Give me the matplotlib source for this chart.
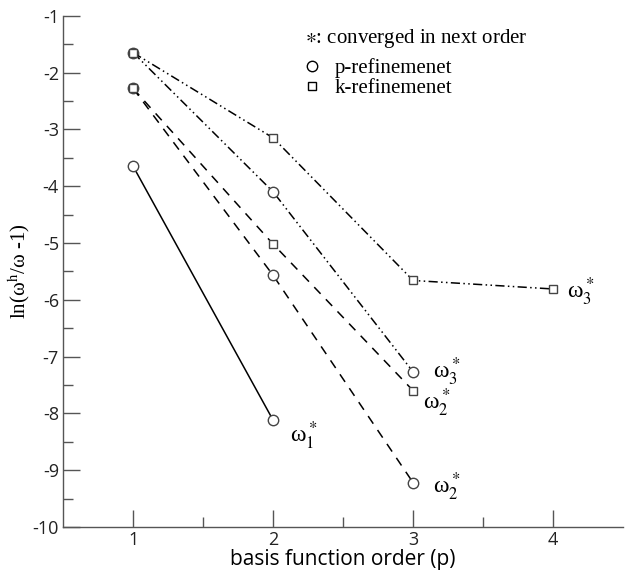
import matplotlib
matplotlib.use('Agg')
import matplotlib.pyplot as plt
from matplotlib.lines import Line2D

plt.rcParams['mathtext.fontset'] = 'stix'
plt.rcParams['axes.unicode_minus'] = False

# basis function order
p1 = [1, 2]
p2 = [1, 2, 3]
p3 = [1, 2, 3]
k2 = [1, 2, 3]
k3 = [1, 2, 3, 4]

# ln(w^h/w - 1)
w1_p = [-3.65, -8.12]
w2_p = [-2.28, -5.57, -9.22]
w2_k = [-2.28, -5.02, -7.60]
w3_p = [-1.65, -4.10, -7.27]
w3_k = [-1.65, -3.15, -5.66, -5.81]

xticks = [1, 2, 3, 4]
yticks = [-1, -2, -3, -4, -5, -6, -7, -8, -9, -10]

sans = 'Open Sans'
serif = 'Liberation Serif'
edge = '#444444'
dashed = (0, (6, 5))
dashdotdot = (0, (6, 2.2, 1, 2.2, 1, 2.2))

fig = plt.figure(figsize=(6.25, 5.7), dpi=100)
ax = fig.add_axes([0.101, 0.0754, 0.896, 0.897])

mk = dict(mfc='white', mec=edge, mew=1.0, color='black', lw=1.1)
ax.plot(p1, w1_p, linestyle='-', marker='o', ms=7.5, **mk)
ax.plot(p2, w2_p, linestyle=dashed, marker='o', ms=7.5, **mk)
ax.plot(k2, w2_k, linestyle=dashed, marker='s', ms=6, **mk)
ax.plot(p3, w3_p, linestyle=dashdotdot, marker='o', ms=7.5, **mk)
ax.plot(k3, w3_k, linestyle=dashdotdot, marker='s', ms=6, **mk)

# converged labels
lab = dict(fontsize=17, va='center', ha='left', family=serif, textcoords='offset points')
ax.annotate(r'ω${}_1^*$', (p1[-1], w1_p[-1]), xytext=(12, -11), **lab)
ax.annotate(r'ω${}_2^*$', (p2[-1], w2_p[-1]), xytext=(14, -3), **lab)
ax.annotate(r'ω${}_2^*$', (k2[-1], w2_k[-1]), xytext=(7, -9), **lab)
ax.annotate(r'ω${}_3^*$', (p3[-1], w3_p[-1]), xytext=(14, 0), **lab)
ax.annotate(r'ω${}_3^*$', (k3[-1], w3_k[-1]), xytext=(10, -2), **lab)

# legend
ax.text(0.432, 0.955, r'$\ast$: converged in next order', transform=ax.transAxes,
        fontsize=15, family=serif, va='center', ha='left')
handles = [Line2D([], [], ls='none', marker='o', ms=7.5, mfc='white', mec='black'),
           Line2D([], [], ls='none', marker='s', ms=5.5, mfc='white', mec='black')]
ax.legend(handles, ['p-refinemenet', 'k-refinemenet'], loc='upper left',
          bbox_to_anchor=(0.403, 0.945), frameon=False, handlelength=0.8,
          handletextpad=0.7, labelspacing=0.0, borderpad=0.2,
          prop={'family': serif, 'size': 15})

ax.set_xlim(0.5, 4.5)
ax.set_ylim(-10, -1)
ax.set_xticks(xticks)
ax.set_yticks(yticks)
ax.set_xticks([1.5, 2.5, 3.5], minor=True)
ax.set_yticks([-1.5 - i for i in range(9)], minor=True)
ax.tick_params(which='both', direction='in', color='#555555', width=1.0,
               labelsize=13, labelcolor='#222222', pad=3)
ax.tick_params(which='major', length=12)
ax.tick_params(which='minor', length=7)
for lbl in ax.get_xticklabels() + ax.get_yticklabels():
    lbl.set_family(sans)

for s in ['top', 'right']:
    ax.spines[s].set_visible(False)
for s in ['left', 'bottom']:
    ax.spines[s].set_color('#555555')
    ax.spines[s].set_linewidth(1.0)

ax.set_xlabel('basis function order (p)', family=sans, fontsize=15, labelpad=0)
ax.set_ylabel(r'ln(ω${}^{\mathrm{h}}$/ω -1)', family=serif, fontsize=15)
ax.yaxis.set_label_coords(-0.055, 0.5)

fig.savefig('out.png', dpi=100)
